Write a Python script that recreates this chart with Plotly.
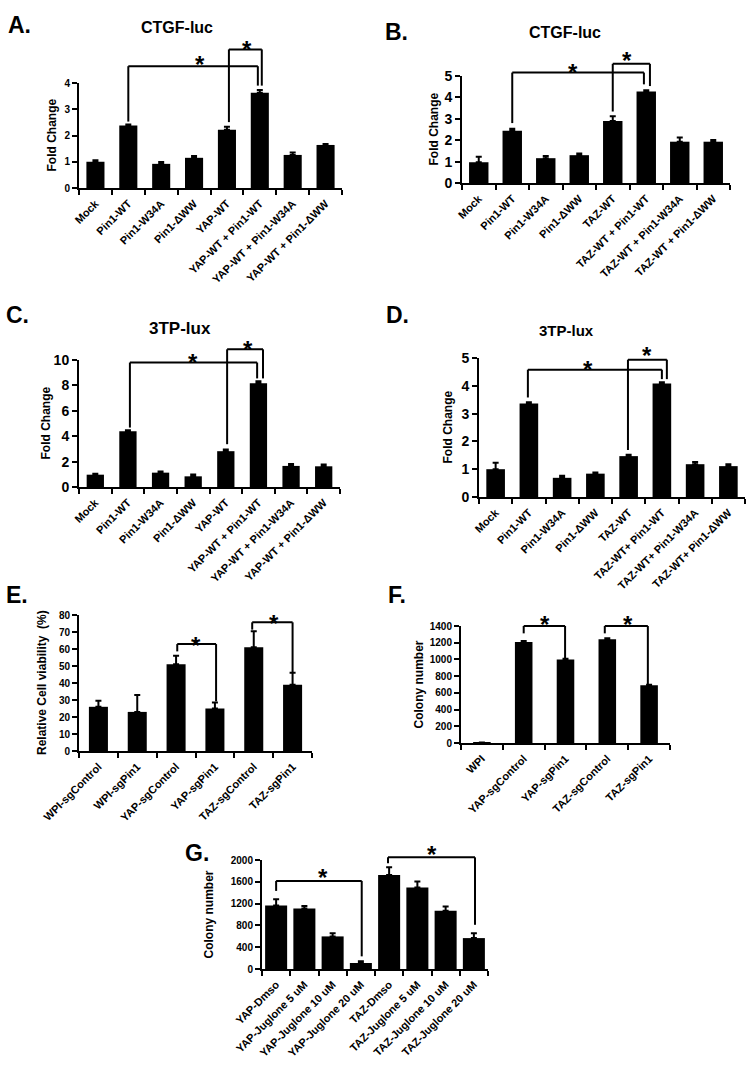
import plotly.graph_objects as go

W, H = 747, 1066
FONT = "Liberation Sans"

# ---------------- data ----------------
cats_A = ["Mock", "Pin1-WT", "Pin1-W34A", "Pin1-ΔWW", "YAP-WT",
          "YAP-WT + Pin1-WT", "YAP-WT + Pin1-W34A", "YAP-WT + Pin1-ΔWW"]
vals_A = [1.00, 2.38, 0.92, 1.15, 2.22, 3.63, 1.26, 1.64]
err_A = [0.06, 0.04, 0.07, 0.07, 0.11, 0.10, 0.09, 0.04]

cats_B = ["Mock", "Pin1-WT", "Pin1-W34A", "Pin1-ΔWW", "TAZ-WT",
          "TAZ-WT + Pin1-WT", "TAZ-WT + Pin1-W34A", "TAZ-WT + Pin1-ΔWW"]
vals_B = [0.97, 2.44, 1.16, 1.30, 2.90, 4.27, 1.93, 1.93]
err_B = [0.26, 0.10, 0.10, 0.08, 0.22, 0.06, 0.20, 0.08]

cats_C = ["Mock", "Pin1-WT", "Pin1-W34A", "Pin1-ΔWW", "YAP-WT",
          "YAP-WT + Pin1-WT", "YAP-WT + Pin1-W34A", "YAP-WT + Pin1-ΔWW"]
vals_C = [0.97, 4.39, 1.13, 0.84, 2.82, 8.16, 1.66, 1.63]
err_C = [0.08, 0.08, 0.10, 0.15, 0.13, 0.16, 0.15, 0.14]

cats_D = ["Mock", "Pin1-WT", "Pin1-W34A", "Pin1-ΔWW", "TAZ-WT",
          "TAZ-WT+ Pin1-WT", "TAZ-WT+ Pin1-W34A", "TAZ-WT+ Pin1-ΔWW"]
vals_D = [1.00, 3.36, 0.69, 0.84, 1.47, 4.08, 1.18, 1.11]
err_D = [0.23, 0.05, 0.07, 0.04, 0.05, 0.05, 0.08, 0.07]

cats_E = ["WPI-sgControl", "WPI-sgPin1", "YAP-sgControl", "YAP-sgPin1",
          "TAZ-sgControl", "TAZ-sgPin1"]
vals_E = [26, 23, 51, 25, 61, 39]
err_E = [3.5, 10, 5, 3.5, 9.5, 7]

cats_F = ["WPI", "YAP-sgControl", "YAP-sgPin1", "TAZ-sgControl", "TAZ-sgPin1"]
vals_F = [5, 1210, 1000, 1240, 690]
err_F = [0, 12, 8, 12, 8]

cats_G = ["YAP-Dmso", "YAP-Juglone 5 uM", "YAP-Juglone 10 uM", "YAP-Juglone 20 uM",
          "TAZ-Dmso", "TAZ-Juglone 5 uM", "TAZ-Juglone 10 uM", "TAZ-Juglone 20 uM"]
vals_G = [1165, 1110, 598, 110, 1726, 1494, 1067, 567]
err_G = [115, 48, 60, 30, 140, 110, 79, 91]

# significance brackets: (x_left, x_right, y_top, y_left_end, y_right_end, star_x, star_y)
brk_A = [(1.0, 4.94, 4.64, 2.53, 3.90, 3.18, 4.94), (4.06, 5.06, 5.28, 2.51, 3.90, 4.60, 5.50)]
brk_B = [(1.0, 4.93, 5.16, 2.80, 4.61, 2.81, 5.45), (4.0, 5.11, 5.57, 3.34, 4.53, 4.43, 6.02)]
brk_C = [(1.06, 4.96, 9.8, 4.68, 8.55, 3.0, 10.3), (4.04, 5.14, 10.84, 3.37, 8.55, 4.68, 11.3)]
brk_D = [(0.97, 5.0, 4.58, 3.58, 4.24, 2.78, 4.82), (3.98, 5.15, 4.94, 1.69, 4.24, 4.55, 5.3)]
brk_E = [(2.03, 3.03, 62.9, 58.6, 29.2, 2.5, 65.3), (3.96, 5.0, 75.7, 71.4, 46.3, 4.53, 78.5)]
brk_F = [(1.0, 1.99, 1400, 1312, 1012, 1.5, 1490), (2.94, 3.97, 1400, 1312, 692, 3.5, 1490)]
brk_G = [(0.0, 3.03, 1616, 1433, 232, 1.65, 1798), (3.96, 7.04, 2049, 1939, 811, 5.5, 2202)]

# ---------------- layout per panel ----------------
panels = [
    dict(label="A.", lab_xy=(6, 25), title="CTGF-luc", title_xy=(177, 27), tsize=16,
         cats=cats_A, vals=vals_A, err=err_A, brk=brk_A,
         xpx=(79, 342), ypx=(83, 188), yr=[0, 4], ytv=[0, 1, 2, 3, 4], ytf=10,
         bw=0.55, ytitle="Fold Change", yt_x=52),
    dict(label="B.", lab_xy=(383, 32), title="CTGF-luc", title_xy=(565, 33), tsize=16,
         cats=cats_B, vals=vals_B, err=err_B, brk=brk_B,
         xpx=(462, 730), ypx=(76, 183), yr=[0, 5], ytv=[0, 1, 2, 3, 4, 5], ytf=14,
         bw=0.58, ytitle="Fold Change", yt_x=433),
    dict(label="C.", lab_xy=(4, 315), title="3TP-lux", title_xy=(180, 328), tsize=17,
         cats=cats_C, vals=vals_C, err=err_C, brk=brk_C,
         xpx=(79, 340), ypx=(360, 487), yr=[0, 10], ytv=[0, 2, 4, 6, 8, 10], ytf=14,
         bw=0.53, ytitle="Fold Change", yt_x=45),
    dict(label="D.", lab_xy=(384, 315), title="3TP-lux", title_xy=(566, 330), tsize=15,
         cats=cats_D, vals=vals_D, err=err_D, brk=brk_D,
         xpx=(479, 745), ypx=(358, 497), yr=[0, 5], ytv=[0, 1, 2, 3, 4, 5], ytf=14,
         bw=0.56, ytitle="Fold Change", yt_x=448),
    dict(label="E.", lab_xy=(4, 595), title=None, title_xy=None, tsize=16,
         cats=cats_E, vals=vals_E, err=err_E, brk=brk_E,
         xpx=(79, 312), ypx=(615, 751), yr=[0, 80], ytv=list(range(0, 81, 10)), ytf=10,
         bw=0.49, ytitle="Relative Cell viability  (%)", yt_x=42),
    dict(label="F.", lab_xy=(386, 595), title=None, title_xy=None, tsize=16,
         cats=cats_F, vals=vals_F, err=err_F, brk=brk_F,
         xpx=(461, 670), ypx=(626, 743), yr=[0, 1400], ytv=list(range(0, 1401, 200)), ytf=10,
         bw=0.42, ytitle="Colony number", yt_x=418),
    dict(label="G.", lab_xy=(183, 853), title=None, title_xy=None, tsize=16,
         cats=cats_G, vals=vals_G, err=err_G, brk=brk_G,
         xpx=(262, 488), ypx=(860, 969), yr=[0, 2000], ytv=list(range(0, 2001, 400)), ytf=10,
         bw=0.78, ytitle="Colony number", yt_x=208),
]

fig = go.Figure()
layout = dict(template="none", width=W, height=H, margin=dict(l=0, r=0, t=0, b=0, pad=0),
              paper_bgcolor="white", plot_bgcolor="white", showlegend=False,
              font=dict(family=FONT, color="black"))
shapes = []
annotations = []

for i, p in enumerate(panels, start=1):
    s = "" if i == 1 else str(i)
    n = len(p["cats"])
    fig.add_trace(go.Bar(
        x=p["cats"], y=p["vals"], width=p["bw"], marker_color="black",
        marker_line_width=0,
        error_y=dict(type="data", array=p["err"], arrayminus=[0] * n, symmetric=False,
                     color="black", thickness=2, width=3),
        xaxis="x" + s, yaxis="y" + s, showlegend=False, cliponaxis=False))
    x0, x1 = p["xpx"]
    y0, y1 = p["ypx"]
    dom_lo, dom_hi = 1 - y1 / H, 1 - y0 / H
    r0, r1 = p["yr"]

    def ypaper(v, dom_lo=dom_lo, dom_hi=dom_hi, r0=r0, r1=r1):
        return dom_lo + (v - r0) / (r1 - r0) * (dom_hi - dom_lo)

    layout["xaxis" + s] = dict(
        domain=[x0 / W, x1 / W], anchor="y" + s, type="category", range=[-0.5, n - 0.5],
        automargin=False, ticklabelstandoff=3,
        showline=True, linecolor="black", linewidth=2, ticks="outside", tickson="boundaries",
        ticklen=5, tickwidth=2, tickcolor="black", tickangle=-45, showgrid=False, zeroline=False,
        tickfont=dict(family=FONT, size=11, color="black", weight="bold"))
    layout["yaxis" + s] = dict(
        domain=[dom_lo, dom_hi], anchor="x" + s, range=p["yr"], tickvals=p["ytv"],
        automargin=False,
        showline=True, linecolor="black", linewidth=2, ticks="outside", ticklen=5, tickwidth=2,
        tickcolor="black", showgrid=False, zeroline=False,
        tickfont=dict(family=FONT, size=p["ytf"], color="black", weight="bold"))
    xr = "x" + s
    for (xl, xrr, yt, yl, yrr, sx, sy) in p["brk"]:
        ln = dict(color="black", width=2)
        shapes.append(dict(type="line", xref=xr, yref="paper", x0=xl, x1=xl,
                           y0=ypaper(yl), y1=ypaper(yt), line=ln))
        shapes.append(dict(type="line", xref=xr, yref="paper", x0=xl, x1=xrr,
                           y0=ypaper(yt), y1=ypaper(yt), line=ln))
        shapes.append(dict(type="line", xref=xr, yref="paper", x0=xrr, x1=xrr,
                           y0=ypaper(yt), y1=ypaper(yrr), line=ln))
        annotations.append(dict(text="*", xref=xr, yref="paper", x=sx, y=ypaper(sy), showarrow=False,
                                xanchor="center", yanchor="middle", yshift=-6,
                                font=dict(family=FONT, size=24, color="black", weight="bold")))
    # panel label
    lx, ly = p["lab_xy"]
    annotations.append(dict(text=p["label"], xref="paper", yref="paper", x=lx / W, y=1 - ly / H,
                            xanchor="left", yanchor="middle", showarrow=False,
                            font=dict(family=FONT, size=23, color="black", weight="bold")))
    if p["title"]:
        tx, ty = p["title_xy"]
        annotations.append(dict(text=p["title"], xref="paper", yref="paper", x=tx / W, y=1 - ty / H,
                                xanchor="center", yanchor="middle", showarrow=False,
                                font=dict(family=FONT, size=p["tsize"], color="black", weight="bold")))
    # y-axis title
    annotations.append(dict(text=p["ytitle"], xref="paper", yref="paper", x=p["yt_x"] / W,
                            y=1 - ((y0 + y1) / 2) / H, xanchor="center", yanchor="middle",
                            textangle=-90, showarrow=False,
                            font=dict(family=FONT, size=12, color="black", weight="bold")))

layout["shapes"] = shapes
layout["annotations"] = annotations
fig.update_layout(**layout)
fig.write_html("out.html", config={"displayModeBar": False},
               post_script="document.body.style.margin='0';document.body.style.overflow='hidden';")
